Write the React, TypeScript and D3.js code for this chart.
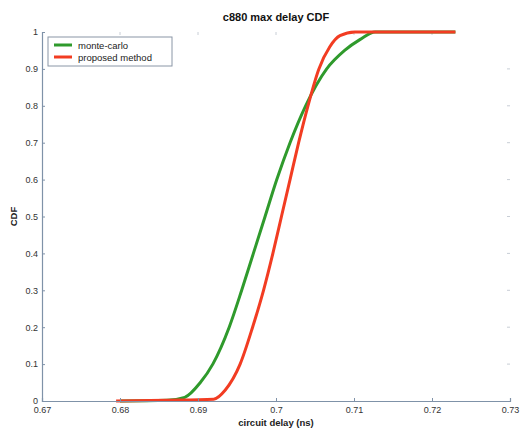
import { useEffect, useRef } from 'react';
import * as d3 from 'd3';

// delay (ns) -> CDF
const monteX = [0.68, 0.686, 0.6883, 0.6903, 0.6919, 0.694, 0.6956, 0.6971, 0.6986, 0.7001, 0.7018, 0.7038, 0.7065, 0.7088, 0.7108, 0.7127, 0.723];
const monteY = [0, 0.002, 0.01, 0.05, 0.1, 0.2, 0.3, 0.4, 0.5, 0.6, 0.7, 0.8, 0.9, 0.95, 0.98, 1.0, 1.0];
const propX = [0.6795, 0.686, 0.692, 0.6935, 0.6954, 0.697, 0.6984, 0.6996, 0.7007, 0.7018, 0.7029, 0.7041, 0.7055, 0.7069, 0.7082, 0.7101, 0.723];
const propY = [0, 0.002, 0.005, 0.03, 0.1, 0.2, 0.3, 0.4, 0.5, 0.6, 0.7, 0.8, 0.9, 0.96, 0.99, 1.0, 1.0];

const xTicks = [0.67, 0.68, 0.69, 0.7, 0.71, 0.72, 0.73];
const yTicks = [0, 0.1, 0.2, 0.3, 0.4, 0.5, 0.6, 0.7, 0.8, 0.9, 1];
const seriesNames = ['monte-carlo', 'proposed method'];
const seriesColors = ['#2f9a2c', '#f23c22'];

export default function App() {
  const svgRef = useRef<SVGSVGElement>(null);

  useEffect(() => {
    if (!svgRef.current) return;
    const W = 523;
    const H = 435;
    const margin = { top: 32, right: 13, bottom: 34, left: 42 };
    const width = W - margin.left - margin.right;
    const height = H - margin.top - margin.bottom;

    const svg = d3.select(svgRef.current);
    svg.selectAll('*').remove();
    svg.attr('width', W).attr('height', H);

    const g = svg.append('g').attr('transform', `translate(${margin.left}, ${margin.top})`);

    const x = d3.scaleLinear().domain([0.67, 0.73]).range([0, width]);
    const y = d3.scaleLinear().domain([0, 1]).range([height, 0]);

    const axisColor = '#7f92a8';
    const font = 'Liberation Sans, Arial, sans-serif';

    // faint top / right ticks like the scanned figure
    g.selectAll('.ttick')
      .data(xTicks.slice(1, -1))
      .enter()
      .append('line')
      .attr('x1', (d) => x(d))
      .attr('x2', (d) => x(d))
      .attr('y1', 0)
      .attr('y2', 3)
      .attr('stroke', '#c8ced6');
    g.selectAll('.rtick')
      .data(yTicks.slice(1, -1))
      .enter()
      .append('line')
      .attr('x1', width)
      .attr('x2', width - 3)
      .attr('y1', (d) => y(d))
      .attr('y2', (d) => y(d))
      .attr('stroke', '#c8ced6');

    const line = d3
      .line<[number, number]>()
      .x((d) => x(d[0]))
      .y((d) => y(d[1]))
      .curve(d3.curveMonotoneX);

    const series: [number, number][][] = [
      monteX.map((v, i) => [v, monteY[i]]),
      propX.map((v, i) => [v, propY[i]]),
    ];

    series.forEach((s, i) => {
      g.append('path')
        .datum(s)
        .attr('d', line)
        .attr('fill', 'none')
        .attr('stroke', seriesColors[i])
        .attr('stroke-width', 3)
        .attr('stroke-linejoin', 'round');
    });

    // axes
    const xAxis = g
      .append('g')
      .attr('transform', `translate(0, ${height})`)
      .call(
        d3.axisBottom(x).tickValues(xTicks).tickSize(-3).tickPadding(6).tickFormat((d) => String(+d))
      );
    const yAxis = g
      .append('g')
      .call(d3.axisLeft(y).tickValues(yTicks).tickSize(-3).tickPadding(4).tickFormat((d) => String(+d)));

    [xAxis, yAxis].forEach((a) => {
      a.select('.domain').attr('stroke', axisColor).attr('stroke-width', 1.2);
      a.selectAll('.tick line').attr('stroke', axisColor);
      a.selectAll('text').attr('fill', '#333').attr('font-size', 9).attr('font-family', font);
    });

    // legend
    const lg = g.append('g').attr('transform', 'translate(6, 5)');
    lg.append('rect')
      .attr('width', 124)
      .attr('height', 29)
      .attr('fill', 'white')
      .attr('stroke', '#8a96a6')
      .attr('stroke-width', 1);
    seriesNames.forEach((name, i) => {
      const yy = 8 + i * 12;
      lg.append('line')
        .attr('x1', 6)
        .attr('x2', 24)
        .attr('y1', yy)
        .attr('y2', yy)
        .attr('stroke', seriesColors[i])
        .attr('stroke-width', 3);
      lg.append('text')
        .attr('x', 30)
        .attr('y', yy + 3.5)
        .attr('font-size', 9.5)
        .attr('font-family', font)
        .attr('fill', '#222')
        .text(name);
    });

    // labels
    svg
      .append('text')
      .attr('x', margin.left + width / 2)
      .attr('y', 21)
      .attr('text-anchor', 'middle')
      .attr('font-size', 11)
      .attr('font-weight', 'bold')
      .attr('font-family', font)
      .attr('fill', '#111')
      .text('c880 max delay CDF');

    svg
      .append('text')
      .attr('x', margin.left + width / 2)
      .attr('y', 426)
      .attr('text-anchor', 'middle')
      .attr('font-size', 9.5)
      .attr('font-weight', 'bold')
      .attr('font-family', font)
      .attr('fill', '#222')
      .text('circuit delay (ns)');

    svg
      .append('text')
      .attr('transform', `translate(17, ${margin.top + height / 2}) rotate(-90)`)
      .attr('text-anchor', 'middle')
      .attr('font-size', 9.5)
      .attr('font-weight', 'bold')
      .attr('font-family', font)
      .attr('fill', '#222')
      .text('CDF');
  }, []);

  return (
    <div style={{ position: 'absolute', left: 0, top: 0 }}>
      <svg ref={svgRef} role="img" aria-label="c880 max delay CDF" />
    </div>
  );
}
